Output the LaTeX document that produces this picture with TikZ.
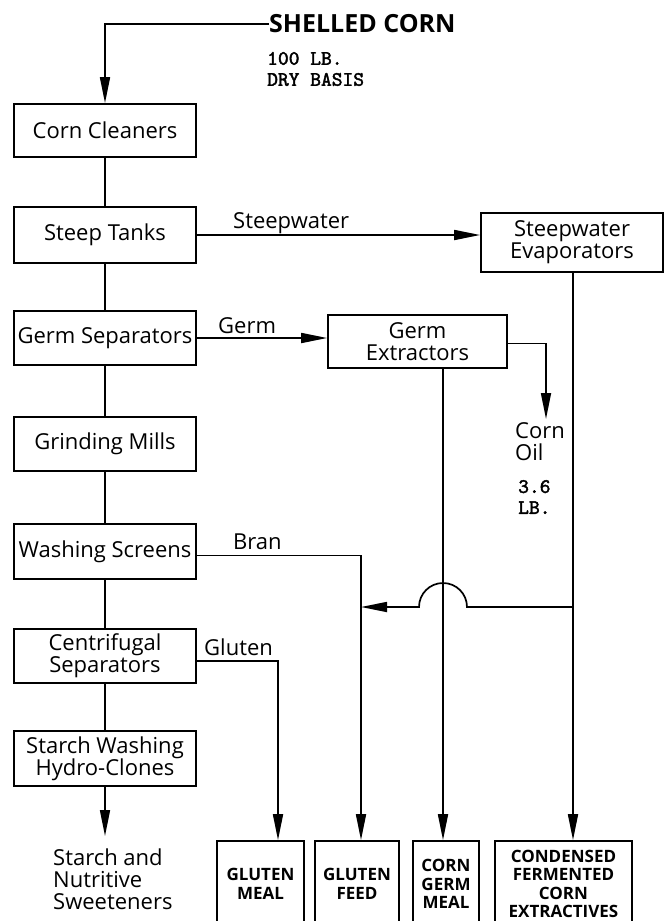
\documentclass[tikz,border=0pt]{standalone}
\usepackage{fontspec}
\setmainfont{Open Sans}
\newfontfamily\monof[FakeBold=2]{lmmono10-regular.otf}
\usetikzlibrary{arrows.meta}
\tikzset{
  box/.style={draw, line width=1.7pt, inner sep=0pt, align=center,
    minimum width=182pt, minimum height=54pt, font=\fontsize{22}{22}\selectfont},
  prod/.style={draw, line width=1.7pt, inner sep=0pt, align=center,
    minimum height=86pt, font=\bfseries\fontsize{17}{18.5}\selectfont},
  ln/.style={line width=1.7pt},
  arr/.style={ln, -{Triangle[length=26pt,width=10pt]}},
  lbl/.style={inner sep=0pt, font=\fontsize{22}{22}\selectfont},
  mono/.style={inner sep=0pt, align=left, font=\monof\fontsize{20.5}{21}\selectfont},
}
\begin{document}
\begin{tikzpicture}[x=1pt, y=-1pt]
\useasboundingbox (0,0) rectangle (664,921);
\clip (0,0) rectangle (664,921);
\fill[white] (0,0) rectangle (664,921);

% left column
\node[box, minimum height=53pt] (cc) at (105,130.5) {Corn Cleaners};
\node[box, minimum height=56pt] (st) at (105,235) {Steep Tanks};
\node[box] (gs) at (105,338) {Germ Separators};
\node[box] (gm) at (105,444) {Grinding Mills};
\node[box, minimum height=55pt] (ws) at (105,551.5) {Washing Screens};
\node[box] (cs) at (105,656) {Centrifugal\\Separators};
\node[box, minimum height=55pt] (sw) at (105,758.5) {Starch Washing\\Hydro-Clones};
\coordinate (stip) at (105,836);
\node[lbl, align=left, anchor=west] (sn) at (53,879) {Starch and\\Nutritive\\Sweeteners};

% right boxes
\node[box, minimum width=182pt, minimum height=59pt] (se) at (572,242.5) {Steepwater\\Evaporators};
\node[box, minimum width=179pt, minimum height=53pt] (ge) at (417.5,341.5) {Germ\\Extractors};

% products
\node[prod, minimum width=87pt] (glm) at (260.5,884) {GLUTEN\\MEAL};
\node[prod, minimum width=84pt] (glf) at (357,884) {GLUTEN\\FEED};
\node[prod, minimum width=66pt] (cgm) at (446,884) {CORN\\GERM\\MEAL};
\node[prod, minimum width=137pt] (cfc) at (563.5,884) {CONDENSED\\FERMENTED\\CORN\\EXTRACTIVES};

% top input
\node[inner sep=0pt, anchor=west, font=\bfseries\fontsize{25}{25}\selectfont] (sc) at (269,24) {SHELLED CORN};
\node[mono, anchor=west] (lb) at (267,69) {100 LB.\\DRY BASIS};
\draw[arr] (sc.west) -- (cc.north |- sc.west) -- (cc.north);

% left column connectors
\draw[ln] (cc) -- (st);
\draw[ln] (st) -- (gs);
\draw[ln] (gs) -- (gm);
\draw[ln] (gm) -- (ws);
\draw[ln] (ws) -- (cs);
\draw[ln] (cs) -- (sw);
\draw[arr] (sw) -- (stip);

% x positions of vertical runs
\coordinate (xo) at (546,0);
\coordinate (xg) at (443,0);
\coordinate (xs) at (573,0);
\coordinate (xb) at (361,0);
\coordinate (xl) at (278,0);

% steepwater
\draw[arr] (st.east) -- (se.west |- st.east);
\node[lbl, anchor=base west] (swl) at (233,228) {Steepwater};

% germ
\draw[arr] (gs.east) -- (ge.west |- gs.east);
\node[lbl, anchor=base west] (gl) at (218,333) {Germ};

% corn oil
\coordinate (os) at ([yshift=-2pt]ge.east);
\coordinate (oil) at (546,419);
\draw[arr] (os) -- (xo |- os) -- (oil);
\node[lbl, align=left, anchor=west] (co) at (515,442) {Corn\\Oil};
\node[mono, anchor=west] (ol) at (518,497) {3.6\\LB.};

% bran
\coordinate (bs) at ([yshift=-4pt]ws.east);
\draw[arr] (bs) -- (xb |- bs) -- (xb |- glf.north);
\node[lbl, anchor=base west] (bl) at (233,549) {Bran};

% gluten
\coordinate (gls) at ([yshift=-5pt]cs.east);
\draw[arr] (gls) -- (xl |- gls) -- (xl |- glm.north);
\node[lbl, anchor=base west] (gtl) at (204,655) {Gluten};

% germ extractors -> corn germ meal
\draw[arr] (xg |- ge.south) -- (xg |- cgm.north);

% evaporators -> CFCE
\draw[arr] (xs |- se.south) -- (xs |- cfc.north);

% return line with hop
\coordinate (jn) at (573,607);
\coordinate (hr) at (467,607);
\draw[arr] (jn) -- (hr) arc[start angle=0, end angle=180, radius=24pt] -- (xb |- jn);
\end{tikzpicture}
\end{document}
